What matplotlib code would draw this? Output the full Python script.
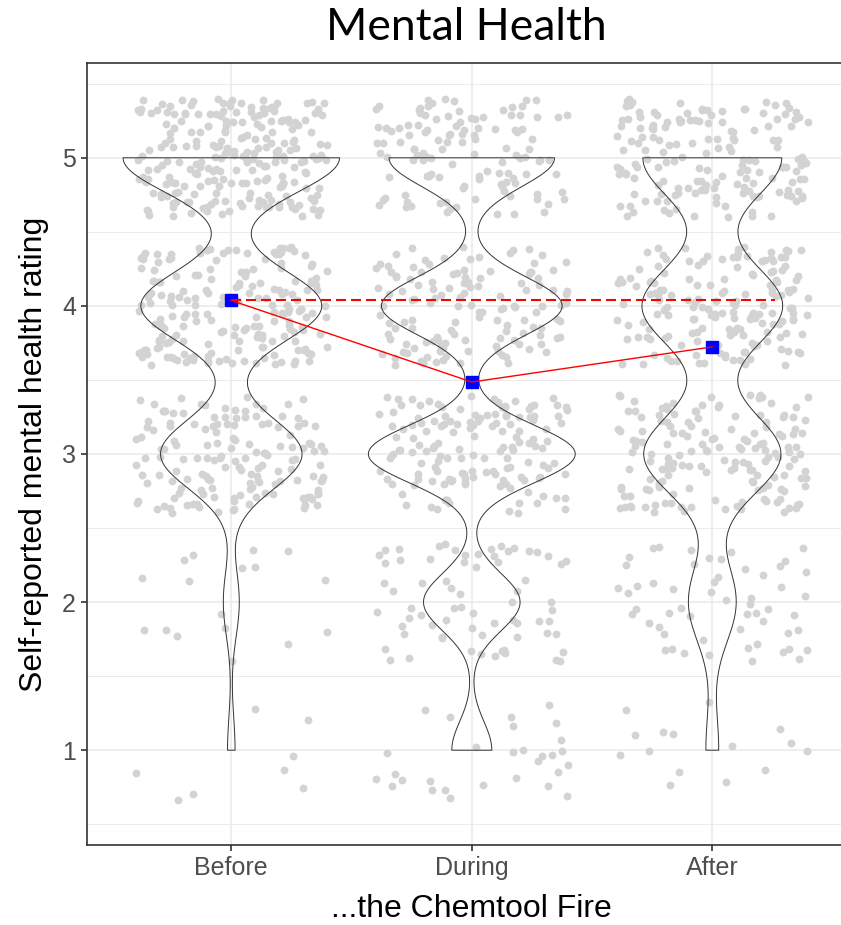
import numpy as np
import matplotlib
matplotlib.use("Agg")
import matplotlib.pyplot as plt

# --- Data (counts of each rating per period) ---
groups = ["Before", "During", "After"]
ratings = [1, 2, 3, 4, 5]
counts_before = [8, 17, 151, 193, 231]
counts_during = [29, 70, 150, 131, 120]
counts_after = [15, 56, 161, 165, 163]
all_counts = [counts_before, counts_during, counts_after]

title = "Mental Health"
xlabel = "...the Chemtool Fire"
ylabel = "Self-reported mental health rating"

# violin max widths (ggplot "area" scaling)
violin_widths = [0.90, 0.86, 0.585]
dash_end = 3.26

plt.rcParams["font.family"] = ["Liberation Sans", "DejaVu Sans"]

# expand counts into raw observations
samples = [np.repeat(ratings, c).astype(float) for c in all_counts]
positions = np.arange(1, len(groups) + 1)
means = [s.mean() for s in samples]


def nrd0(kde):
    # R's bw.nrd0, returned as a factor of the sample sd
    x = kde.dataset.ravel()
    sd = x.std(ddof=1)
    iqr = np.subtract(*np.percentile(x, [75, 25]))
    h = 0.9 * min(sd, iqr / 1.34) * len(x) ** -0.2
    return h / sd


fig = plt.figure(figsize=(8.41, 9.25), dpi=100)
ax = fig.add_axes([87 / 841, 80 / 925, (856.6 - 87) / 841, (845 - 63) / 925])

# jittered raw points (geom_jitter style, width/height 0.4)
rng = np.random.default_rng(7)
for pos, s in zip(positions, samples):
    jx = pos + rng.uniform(-0.4, 0.4, len(s))
    jy = s + rng.uniform(-0.4, 0.4, len(s))
    ax.scatter(jx, jy, s=32, color="#d3d3d3", linewidths=0, zorder=2)

# violins
parts = ax.violinplot(samples, positions=positions, widths=violin_widths,
                      showextrema=False, bw_method=nrd0, points=512)
for body in parts["bodies"]:
    body.set_facecolor("none")
    body.set_edgecolor("#333333")
    body.set_linewidth(0.7)
    body.set_alpha(1)
    body.set_zorder(3)

# means
ax.plot(positions, means, color="red", lw=1.0, zorder=5)
ax.plot([positions[0], dash_end], [means[0], means[0]], color="red", lw=1.5,
        linestyle=(0, (4.8, 2.4)), zorder=5)
ax.plot(positions, means, linestyle="none", marker="s", markersize=8.5,
        color="blue", zorder=4)

# axes styling (theme_bw-like)
ax.set_xlim(0.4, 3.6)
ax.set_ylim(0.36, 5.64)
ax.set_xticks(positions)
ax.set_xticklabels(groups)
ax.set_yticks([1, 2, 3, 4, 5])
ax.set_yticks(np.arange(0.5, 6.0, 1.0), minor=True)
ax.set_axisbelow(True)
ax.grid(which="major", color="#ebebeb", lw=1.2)
ax.grid(which="minor", axis="y", color="#ebebeb", lw=0.7)
for sp in ax.spines.values():
    sp.set_color("#333333")
    sp.set_linewidth(1.2)
ax.tick_params(which="major", length=4, width=1.2, color="#333333",
               labelcolor="#4d4d4d", labelsize=18, pad=4)
ax.tick_params(which="minor", length=0)

ax.set_xlabel(xlabel, fontsize=23)
ax.set_ylabel(ylabel, fontsize=23)
ax.xaxis.set_label_coords(0.5, -0.063)
ax.yaxis.set_label_coords(-0.05, 0.5)

fig.text(466 / 841, 1 - 28 / 925, title, ha="center", va="center",
         fontsize=32, family=["Lato", "DejaVu Sans"])

fig.savefig("out.png", dpi=100)
